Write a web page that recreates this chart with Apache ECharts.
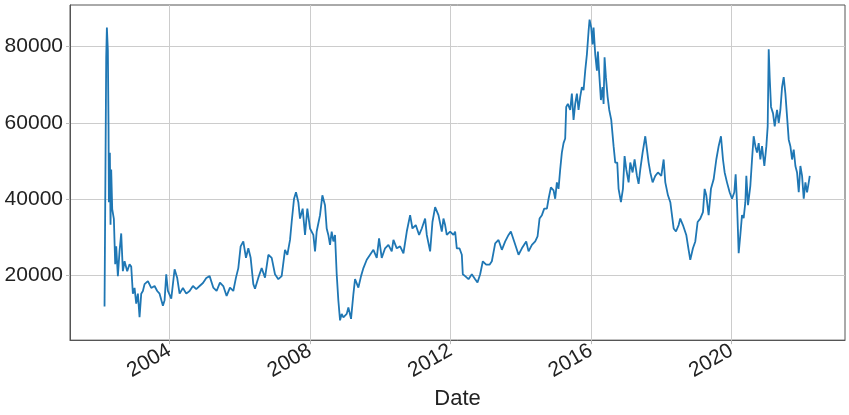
<!DOCTYPE html>
<html>
<head>
<meta charset="utf-8">
<script src="https://cdn.jsdelivr.net/npm/echarts@6/dist/echarts.min.js"></script>
<style>
html,body{margin:0;padding:0;background:#fff;}
#c{width:849px;height:415px;}
</style>
</head>
<body>
<div id="c"></div>
<script>
// decimal year of each point
const years = [
2002.153,2002.201,2002.220,2002.248,2002.267,2002.277,2002.305,2002.324,2002.343,2002.372,2002.419,2002.457,2002.485,2002.533,2002.580,2002.628,2002.675,2002.723,2002.799,2002.865,2002.913,2002.960,2003.008,2003.055,2003.103,2003.150,2003.198,2003.245,2003.293,2003.388,2003.483,2003.578,2003.653,2003.720,2003.815,2003.863,2003.910,2003.958,2004.053,2004.148,2004.223,2004.290,2004.385,2004.480,2004.575,2004.670,2004.765,2004.860,2004.955,2005.050,2005.145,
2005.249,2005.344,2005.439,2005.534,2005.629,2005.724,2005.819,2005.895,2005.962,2006.028,2006.104,2006.180,2006.247,2006.313,2006.389,2006.437,2006.532,2006.627,2006.722,2006.817,2006.912,2007.006,2007.101,2007.196,2007.291,2007.358,2007.434,2007.481,2007.548,2007.604,2007.671,2007.718,2007.794,2007.861,2007.927,2008.003,2008.098,2008.146,2008.193,2008.288,2008.355,2008.430,
2008.478,2008.525,2008.573,2008.620,2008.668,2008.715,2008.763,2008.810,2008.858,2008.905,2008.953,2009.048,2009.095,2009.171,2009.238,2009.285,2009.380,2009.456,2009.523,2009.618,2009.713,2009.808,2009.903,2009.969,2010.045,2010.140,2010.235,2010.330,2010.378,2010.473,2010.568,2010.663,2010.758,2010.853,2010.919,2011.014,2011.109,2011.185,2011.280,2011.328,2011.423,2011.489,2011.565,2011.660,
2011.755,2011.802,2011.850,2011.897,2011.992,2012.087,2012.135,2012.182,2012.258,2012.325,2012.353,2012.420,2012.515,2012.610,2012.705,2012.771,2012.847,2012.923,2013.018,2013.113,2013.180,2013.275,2013.370,2013.465,2013.560,2013.655,2013.721,2013.816,2013.940,2014.035,2014.158,2014.225,2014.320,2014.415,2014.481,2014.538,2014.605,2014.671,2014.747,2014.795,2014.861,2014.937,
2014.983,2015.031,2015.078,2015.126,2015.173,2015.221,2015.268,2015.297,2015.344,2015.411,2015.458,2015.506,2015.553,2015.601,2015.648,2015.696,2015.743,2015.791,2015.838,2015.886,2015.933,2015.962,2016.009,2016.047,2016.076,2016.123,2016.171,2016.199,2016.237,2016.285,2016.332,2016.361,2016.389,2016.427,2016.475,2016.522,2016.579,2016.646,2016.693,2016.750,2016.788,2016.855,2016.912,2016.959,2017.007,2017.073,2017.121,2017.187,2017.244,2017.311,2017.358,2017.406,2017.472,2017.548,2017.596,2017.643,2017.691,2017.757,2017.833,2017.909,2018.004,2018.071,2018.118,2018.194,2018.261,2018.308,2018.356,2018.422,2018.498,
2018.544,2018.620,2018.715,2018.782,2018.829,2018.905,2018.972,2019.038,2019.114,2019.190,2019.238,2019.285,2019.352,2019.418,2019.494,2019.570,2019.637,2019.703,2019.760,2019.808,2019.874,2019.950,2020.017,2020.083,2020.121,2020.159,2020.207,2020.254,2020.302,2020.349,2020.397,2020.425,2020.473,2020.539,2020.587,2020.634,2020.682,2020.729,2020.777,2020.824,2020.872,2020.938,2020.995,2021.033,2021.062,2021.090,2021.128,2021.185,2021.233,2021.299,2021.347,2021.394,2021.442,2021.489,2021.537,2021.584,2021.632,2021.679,2021.727,2021.774,2021.822,2021.869,2021.917,2021.964,2022.012,2022.059,2022.107,2022.154,2022.202,2022.230
];
// value at each point
const values = [
11800,77200,85000,79000,59200,39200,52200,33300,47800,37400,34800,22900,27600,19800,26300,31000,21100,23700,21100,22900,22300,15200,16700,12600,15200,9000,15200,15900,17700,18500,16700,17200,15900,15200,12000,13500,20300,15900,13900,21600,19300,15200,16700,15200,15900,17200,16400,17200,18000,19300,19800,
16800,15900,18100,17200,14600,16800,15900,19400,21900,27600,28900,24600,27100,24600,17700,16500,19400,21900,19400,25400,24600,20300,19000,19800,26700,25400,29300,34000,40100,41800,39200,34900,37500,30600,37500,32300,30600,26300,31500,35800,41000,38400,
32300,30600,28000,31500,28900,30600,20300,13400,8200,9900,9000,9900,11600,8600,15100,19000,16800,19800,21900,24100,25400,26700,24600,29700,24600,27100,28000,26300,29300,27100,27600,25800,31500,35800,32300,33200,30600,32300,34900,30600,26300,34000,37900,35800,
31500,34900,33200,30600,31500,30600,31500,27100,27100,25400,20300,19800,19000,20300,19000,18100,20300,23700,22800,22800,23700,28400,29300,26700,28900,30600,31500,28900,25400,27100,28900,26300,28000,28900,30200,34900,35800,37500,37500,40100,43100,42300,
40100,44400,42700,47800,52200,54700,55900,64200,65000,63400,67700,60800,65000,67700,63400,66900,69400,68600,73700,78000,84000,87100,85000,80600,85000,78000,73700,78700,72800,66000,69400,65000,77200,72000,66900,63400,60800,53900,49600,49600,42700,39200,42700,51300,47800,44400,49600,47000,50400,46100,44000,47800,52200,56500,53000,49600,47000,44400,46100,47000,46100,50400,44400,41000,39200,35800,32300,31500,33200,
34900,33200,30600,26700,24100,27100,28900,34000,34900,36600,42700,41000,35800,42700,45200,50400,53900,56500,50400,47000,44400,41800,40100,41800,46500,39200,25800,30600,35800,35000,39200,46100,38400,43500,50400,56500,53900,52200,54700,50400,53900,48700,53900,59100,79300,72000,64200,62500,59100,63400,60000,63400,69400,72000,67700,61700,55600,53900,50400,53000,48700,47000,41800,48700,46100,40100,44400,41800,44400,46100
];
const xTicks = [2004, 2008, 2012, 2016, 2020];
const yTicks = [20000, 40000, 60000, 80000];

const data = years.map((y, i) => [y, values[i]]);
const chart = echarts.init(document.getElementById('c'), null, {renderer: 'canvas'});
const font = 'Liberation Sans, Arial, sans-serif';
chart.setOption({
  animation: false,
  grid: {left: 70, right: 4, top: 5, bottom: 70, show: true, borderColor: '#555', borderWidth: 1, backgroundColor: 'transparent'},
  xAxis: {
    type: 'value', min: 2001.17, max: 2023.234,
    name: 'Date', nameLocation: 'middle', nameGap: 44,
    nameTextStyle: {fontFamily: font, fontSize: 22, color: '#222'},
    axisLine: {show: true, lineStyle: {color: '#555', width: 1}},
    axisTick: {show: true, length: 4, lineStyle: {color: '#bbb'}, customValues: xTicks},
    axisLabel: {customValues: xTicks, rotate: 30, fontFamily: font, fontSize: 21, color: '#222', margin: 9, formatter: v => String(Math.round(v))},
    splitLine: {show: true, lineStyle: {color: '#cccccc', width: 1}}
  },
  yAxis: {
    type: 'value', min: 3000, max: 90940,
    axisLine: {show: true, lineStyle: {color: '#555', width: 1}},
    axisTick: {show: true, length: 4, lineStyle: {color: '#bbb'}, customValues: yTicks},
    axisLabel: {customValues: yTicks, fontFamily: font, fontSize: 21, color: '#222', margin: 7, formatter: v => String(v)},
    splitLine: {show: true, lineStyle: {color: '#cccccc', width: 1}}
  },
  series: [{
    type: 'line', data: data, showSymbol: false, symbol: 'none',
    lineStyle: {color: '#1f77b4', width: 1.8}, itemStyle: {color: '#1f77b4'}
  }]
});
</script>
</body>
</html>
